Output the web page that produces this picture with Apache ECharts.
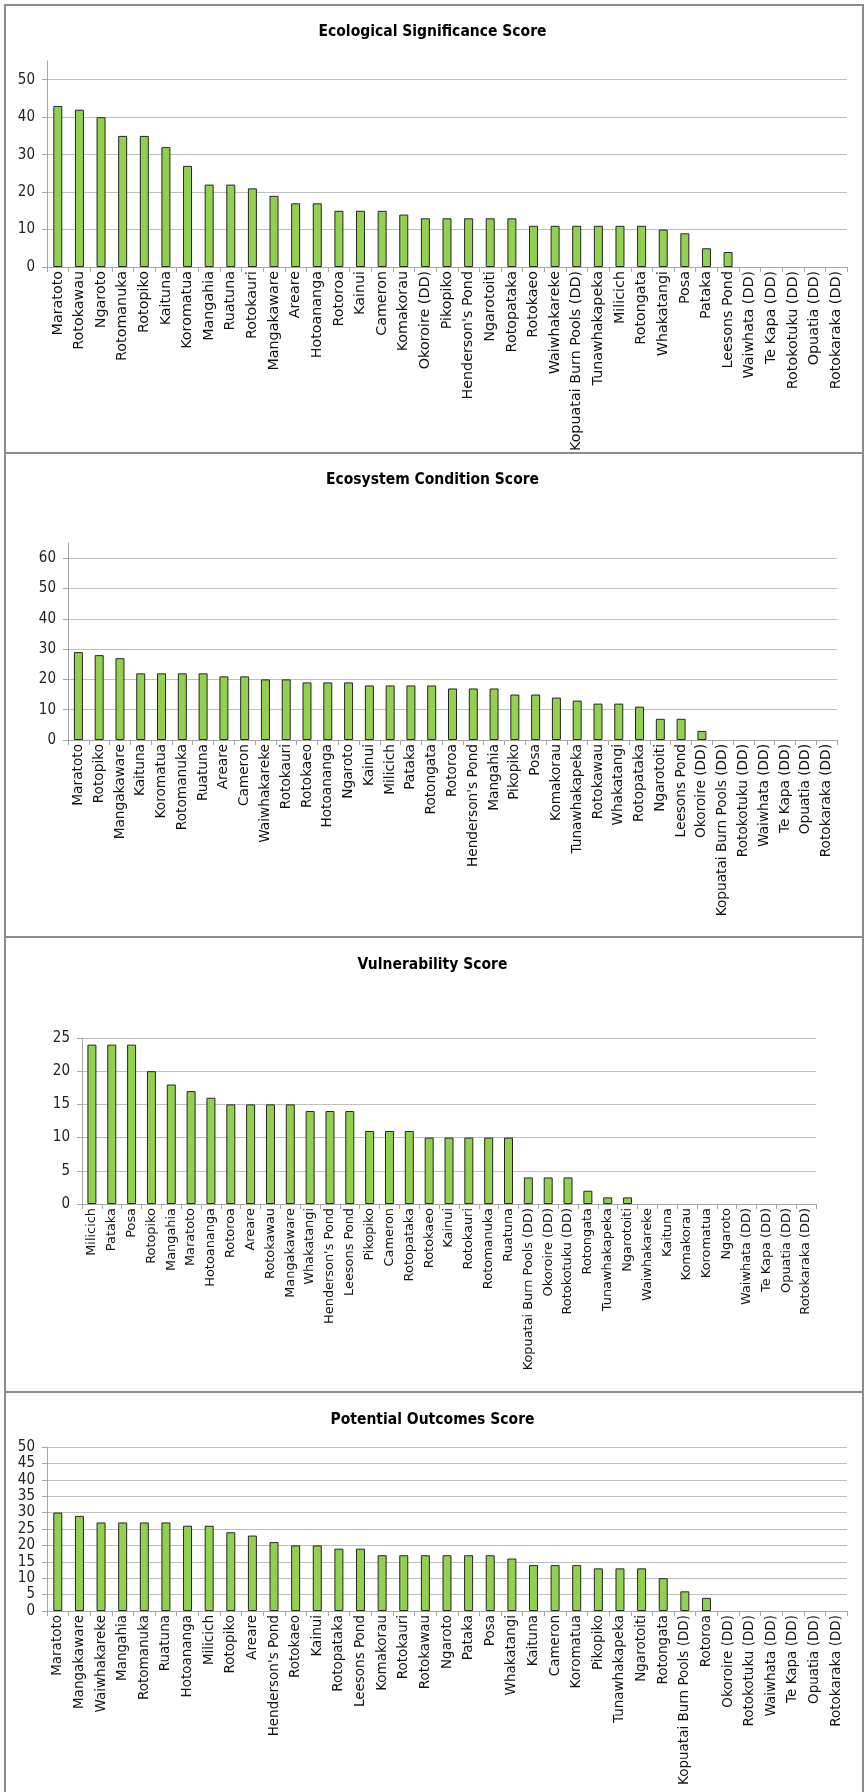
<!DOCTYPE html>
<html>
<head>
<meta charset="utf-8">
<script src="https://cdn.jsdelivr.net/npm/echarts@6/dist/echarts.min.js"></script>
<style>
html,body{margin:0;padding:0;background:#fff;}
#c{width:865px;height:1792px;}
</style>
</head>
<body>
<div id="c"></div>
<script>
// ---------- DATA ----------
const titles = ['Ecological Significance Score', 'Ecosystem Condition Score', 'Vulnerability Score', 'Potential Outcomes Score'];

const ecoSigCats = ['Maratoto','Rotokawau','Ngaroto','Rotomanuka','Rotopiko','Kaituna','Koromatua','Mangahia','Ruatuna','Rotokauri','Mangakaware','Areare','Hotoananga','Rotoroa','Kainui','Cameron','Komakorau','Okoroire (DD)','Pikopiko',"Henderson's Pond",'Ngarotoiti','Rotopataka','Rotokaeo','Waiwhakareke','Kopuatai Burn Pools (DD)','Tunawhakapeka','Milicich','Rotongata','Whakatangi','Posa','Pataka','Leesons Pond','Waiwhata (DD)','Te Kapa (DD)','Rotokotuku (DD)','Opuatia (DD)','Rotokaraka (DD)'];
const ecoSigVals = [43,42,40,35,35,32,27,22,22,21,19,17,17,15,15,15,14,13,13,13,13,13,11,11,11,11,11,11,10,9,5,4,0,0,0,0,0];

const condCats = ['Maratoto','Rotopiko','Mangakaware','Kaituna','Koromatua','Rotomanuka','Ruatuna','Areare','Cameron','Waiwhakareke','Rotokauri','Rotokaeo','Hotoananga','Ngaroto','Kainui','Milicich','Pataka','Rotongata','Rotoroa',"Henderson's Pond",'Mangahia','Pikopiko','Posa','Komakorau','Tunawhakapeka','Rotokawau','Whakatangi','Rotopataka','Ngarotoiti','Leesons Pond','Okoroire (DD)','Kopuatai Burn Pools (DD)','Rotokotuku (DD)','Waiwhata (DD)','Te Kapa (DD)','Opuatia (DD)','Rotokaraka (DD)'];
const condVals = [29,28,27,22,22,22,22,21,21,20,20,19,19,19,18,18,18,18,17,17,17,15,15,14,13,12,12,11,7,7,3,0,0,0,0,0,0];

const vulnCats = ['Milicich','Pataka','Posa','Rotopiko','Mangahia','Maratoto','Hotoananga','Rotoroa','Areare','Rotokawau','Mangakaware','Whakatangi',"Henderson's Pond",'Leesons Pond','Pikopiko','Cameron','Rotopataka','Rotokaeo','Kainui','Rotokauri','Rotomanuka','Ruatuna','Kopuatai Burn Pools (DD)','Okoroire (DD)','Rotokotuku (DD)','Rotongata','Tunawhakapeka','Ngarotoiti','Waiwhakareke','Kaituna','Komakorau','Koromatua','Ngaroto','Waiwhata (DD)','Te Kapa (DD)','Opuatia (DD)','Rotokaraka (DD)'];
const vulnVals = [24,24,24,20,18,17,16,15,15,15,15,14,14,14,11,11,11,10,10,10,10,10,4,4,4,2,1,1,0,0,0,0,0,0,0,0,0];

const outCats = ['Maratoto','Mangakaware','Waiwhakareke','Mangahia','Rotomanuka','Ruatuna','Hotoananga','Milicich','Rotopiko','Areare',"Henderson's Pond",'Rotokaeo','Kainui','Rotopataka','Leesons Pond','Komakorau','Rotokauri','Rotokawau','Ngaroto','Pataka','Posa','Whakatangi','Kaituna','Cameron','Koromatua','Pikopiko','Tunawhakapeka','Ngarotoiti','Rotongata','Kopuatai Burn Pools (DD)','Rotoroa','Okoroire (DD)','Rotokotuku (DD)','Waiwhata (DD)','Te Kapa (DD)','Opuatia (DD)','Rotokaraka (DD)'];
const outVals = [30,29,27,27,27,27,26,26,24,23,21,20,20,19,19,17,17,17,17,17,17,16,14,14,14,13,13,13,10,6,4,0,0,0,0,0,0];

// y-axis scales (max, tick step) per panel
const yMax = [55, 65, 25, 50];
const yStep = [10, 10, 5, 5];

// ---------- LAYOUT / STYLE ----------
const cats = [ecoSigCats, condCats, vulnCats, outCats];
const vals = [ecoSigVals, condVals, vulnVals, outVals];
const grids = [
  {left: 47, top: 61, width: 800, height: 206},
  {left: 68, top: 543, width: 769, height: 197},
  {left: 82, top: 1038, width: 734, height: 166},
  {left: 47, top: 1447, width: 800, height: 164}
];
const panels = [
  {y: 5, h: 448},
  {y: 453, h: 484},
  {y: 937, h: 455},
  {y: 1392, h: 420}
];
const titleY = [29, 477, 962, 1417];
const catFont = [14.3, 13.7, 12.9, 13.5];

const narrow = "'Liberation Sans Narrow','DejaVu Sans Condensed',sans-serif";
const axisGray = '#a6a6a6';

const option = {
  animation: false,
  backgroundColor: '#fff',
  title: titles.map((t, i) => ({
    text: t, left: 'center', top: titleY[i] - 10,
    textStyle: {fontFamily: narrow, fontWeight: 'bold', fontSize: 15.5, color: '#000'}
  })),
  graphic: panels.map(p => ({
    type: 'rect', shape: {x: 5, y: p.y, width: 858, height: p.h},
    style: {fill: 'none', stroke: '#8c8c8c', lineWidth: 2}, silent: true, z: 100
  })),
  grid: grids.map(g => Object.assign({containLabel: false}, g)),
  xAxis: cats.map((c, i) => ({
    type: 'category', gridIndex: i, data: c,
    axisLine: {show: true, lineStyle: {color: axisGray, width: 1}},
    axisTick: {show: true, length: 5, lineStyle: {color: axisGray}},
    axisLabel: {rotate: 90, interval: 0, margin: 4, fontFamily: 'DejaVu Sans', fontSize: catFont[i], color: '#111'},
    splitLine: {show: false}
  })),
  yAxis: yMax.map((m, i) => ({
    type: 'value', gridIndex: i, min: 0, max: m, interval: yStep[i],
    axisLine: {show: true, lineStyle: {color: axisGray, width: 1}},
    axisTick: {show: true, length: 5, lineStyle: {color: axisGray}},
    axisLabel: {margin: 12, fontFamily: narrow, fontSize: 15, color: '#222', showMaxLabel: m % yStep[i] === 0},
    splitLine: {show: true, showMaxLine: m % yStep[i] === 0, lineStyle: {color: '#bfbfbf', width: 1}}
  })),
  series: vals.map((v, i) => ({
    type: 'bar', xAxisIndex: i, yAxisIndex: i,
    data: v.map(x => (x === 0 ? '-' : x)),
    barWidth: 9,
    itemStyle: {color: '#92D050', borderColor: '#262626', borderWidth: 1}
  }))
};

const chart = echarts.init(document.getElementById('c'), null, {renderer: 'canvas'});
chart.setOption(option);
</script>
</body>
</html>
